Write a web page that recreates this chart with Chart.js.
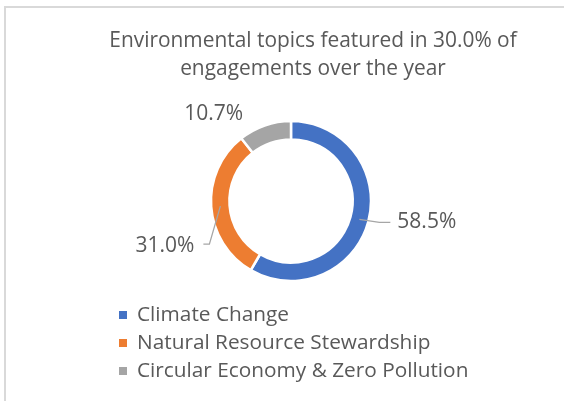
<!DOCTYPE html>
<html>
<head>
<meta charset="utf-8">
<script src="https://cdn.jsdelivr.net/npm/chart.js@4.4.0/dist/chart.umd.min.js"></script>
<style>
  html, body { margin: 0; padding: 0; background: #fff; }
  #frame {
    position: absolute; left: 4px; top: 6px; width: 600px; height: 440px;
    border-left: 2px solid #d9d9d9; border-top: 2px solid #d9d9d9;
  }
  #wrap { position: absolute; left: 0; top: 0; width: 564px; height: 401px; }
</style>
</head>
<body>
<div id="frame"></div>
<div id="wrap"><canvas id="chart-canvas" width="564" height="401"></canvas></div>
<script>
// data
const categories = ["Climate Change", "Natural Resource Stewardship", "Circular Economy & Zero Pollution"];
const shares = [58.5, 31.0, 10.7];
const sliceColors = ["#4472c4", "#ed7d31", "#a5a5a5"];
const titleLines = ["Environmental topics featured in 30.0% of", "engagements over the year"];

const FONT = "'Open Sans', Lato, sans-serif";
const TEXT = "#595959";
const LEADER = "#a6a6a6";

// labels + leader lines, title and legend drawn after the doughnut
const decorations = {
    id: "decorations",
    afterDraw: function(chart) {
        const ctx = chart.ctx;
        const arcs = chart.getDatasetMeta(0).data;
        ctx.save();

        // title
        ctx.fillStyle = TEXT;
        ctx.font = "20.9px " + FONT;
        ctx.textAlign = "center";
        ctx.textBaseline = "middle";
        ctx.fillText(titleLines[0], 313, 41);
        ctx.fillText(titleLines[1], 313, 69);

        // data labels, anchored at the middle of each ring segment
        ctx.font = "21px " + FONT;
        arcs.forEach(function(arc, i) {
            const p = arc.getProps(["x", "y", "startAngle", "endAngle", "innerRadius", "outerRadius"], true);
            const mid = (p.startAngle + p.endAngle) / 2;
            const r = (p.innerRadius + p.outerRadius) / 2;
            const ax = p.x + Math.cos(mid) * r;
            const ay = p.y + Math.sin(mid) * r;
            const txt = shares[i].toFixed(1) + "%";
            ctx.strokeStyle = LEADER;
            ctx.lineWidth = 1.3;
            if (i == 0) {
                ctx.beginPath();
                ctx.moveTo(ax, ay);
                ctx.lineTo(ax + 20, ay + 3);
                ctx.lineTo(ax + 31, ay + 3);
                ctx.stroke();
                ctx.textAlign = "left";
                ctx.fillText(txt, ax + 38, ay + 3);
            } else if (i == 1) {
                ctx.beginPath();
                ctx.moveTo(ax, ay);
                ctx.lineTo(ax - 11, ay + 38);
                ctx.lineTo(ax - 17, ay + 38);
                ctx.stroke();
                ctx.textAlign = "right";
                ctx.fillText(txt, ax - 26, ay + 40);
            } else {
                ctx.textAlign = "center";
                ctx.fillText(txt, ax - 54, ay - 20);
            }
        });

        // legend, one item per row
        ctx.font = "20.8px " + FONT;
        ctx.textAlign = "left";
        categories.forEach(function(name, i) {
            const y = 315 + i * 28;
            ctx.fillStyle = sliceColors[i];
            ctx.fillRect(119, y - 4, 8, 8);
            ctx.fillStyle = TEXT;
            ctx.fillText(name, 137, y);
        });
        ctx.restore();
    }
};

new Chart("chart-canvas", {
    type: "doughnut",
    data: {
        labels: categories,
        datasets: [{
            data: shares,
            backgroundColor: sliceColors,
            borderColor: "#ffffff",
            borderWidth: 2.5,
            hoverOffset: 0
        }]
    },
    options: {
        responsive: false,
        animation: false,
        radius: 80,
        cutout: "77%",
        layout: { padding: { left: 18, right: 0, top: 1, bottom: 0 } },
        plugins: {
            legend: { display: false },
            title: { display: false },
            tooltip: { enabled: false }
        }
    },
    plugins: [decorations]
});
</script>
</body>
</html>
